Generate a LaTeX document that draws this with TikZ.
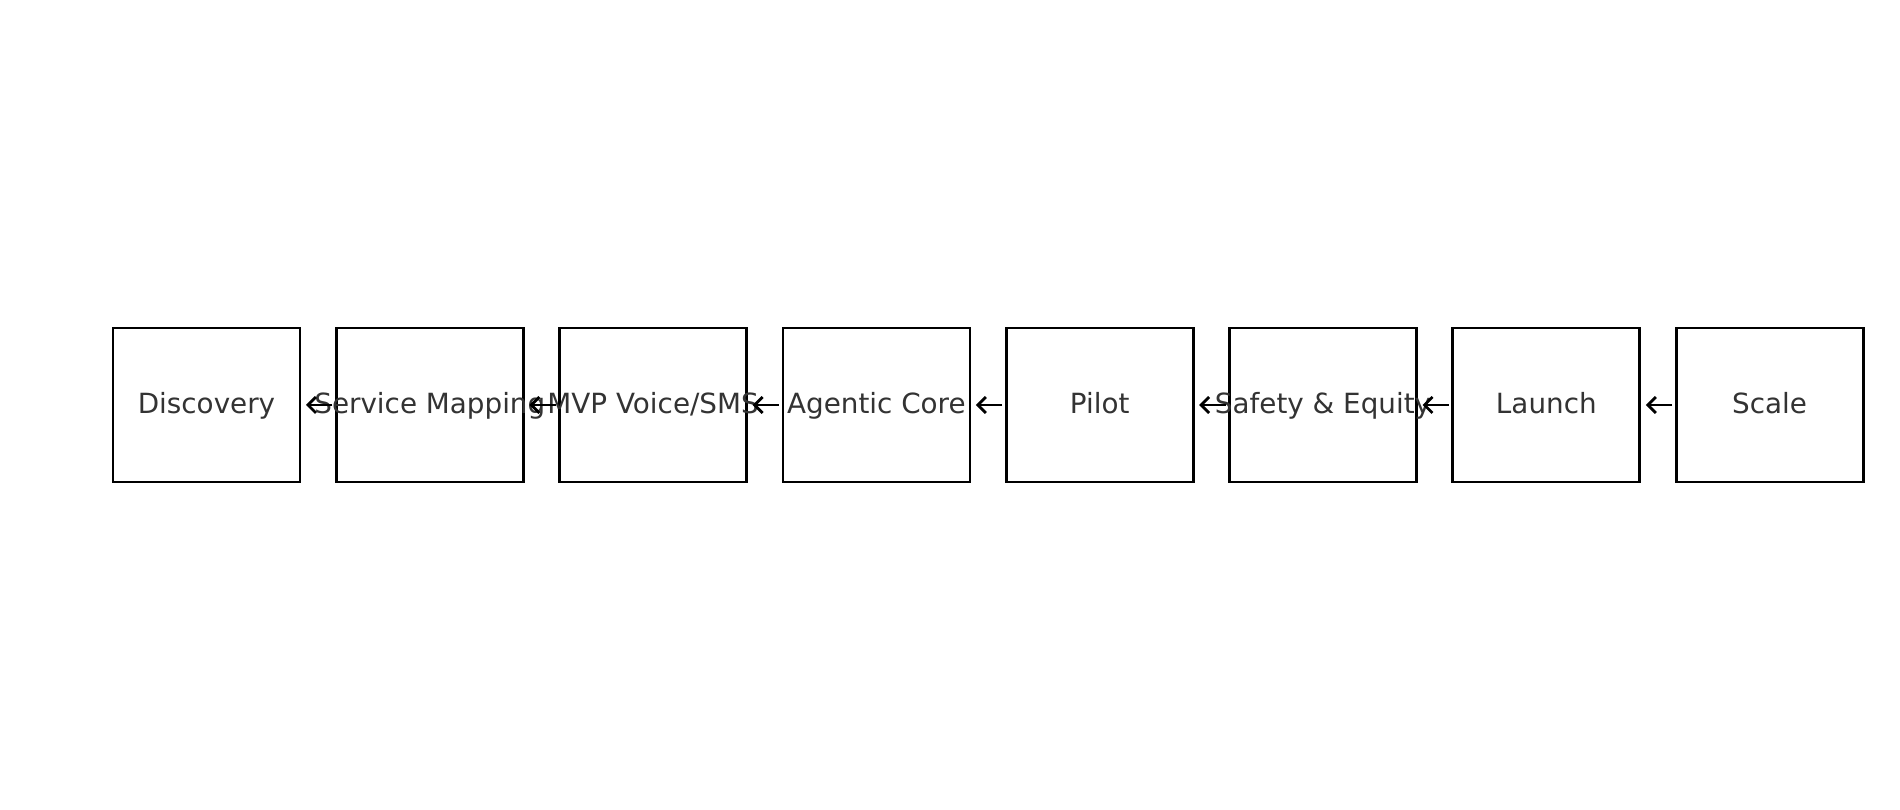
\documentclass[tikz,border=0pt]{standalone}
\usepackage{fontspec}
\setmainfont{DejaVu Sans}
\usetikzlibrary{arrows.meta}
\definecolor{txtgray}{HTML}{333333}
\tikzset{
  stagebox/.style={draw=black, line width=2.8pt, minimum width=187pt, minimum height=154pt, inner sep=0pt, outer sep=0pt},
  stagetext/.style={text=txtgray, font=\fontsize{27.8}{32}\selectfont, inner sep=0pt, text height=23pt, text depth=6pt},
  flow/.style={draw=black, line width=2.8pt, -{Straight Barb[length=8pt,width=16pt,line width=2.8pt]}, shorten <=4pt, shorten >=6pt}
}
\begin{document}
\begin{tikzpicture}[x=1pt,y=1pt]
\useasboundingbox (0,0) rectangle (1900,810);
\fill[white] (0,0) rectangle (1900,810);
\node[stagebox, label={[stagetext]center:Discovery}] (n1) at (206.5,405) {};
\node[stagebox, label={[stagetext]center:Service Mapping}] (n2) at (429.8,405) {};
\node[stagebox, label={[stagetext]center:MVP Voice/SMS}] (n3) at (653.1,405) {};
\node[stagebox, label={[stagetext]center:Agentic Core}] (n4) at (876.4,405) {};
\node[stagebox, label={[stagetext]center:Pilot}] (n5) at (1099.7,405) {};
\node[stagebox, label={[stagetext]center:Safety \& Equity}] (n6) at (1323.0,405) {};
\node[stagebox, label={[stagetext]center:Launch}] (n7) at (1546.3,405) {};
\node[stagebox, label={[stagetext]center:Scale}] (n8) at (1769.6,405) {};
\draw[flow] (n2.west) -- (n1.east);
\draw[flow] (n3.west) -- (n2.east);
\draw[flow] (n4.west) -- (n3.east);
\draw[flow] (n5.west) -- (n4.east);
\draw[flow] (n6.west) -- (n5.east);
\draw[flow] (n7.west) -- (n6.east);
\draw[flow] (n8.west) -- (n7.east);
\end{tikzpicture}
\end{document}
